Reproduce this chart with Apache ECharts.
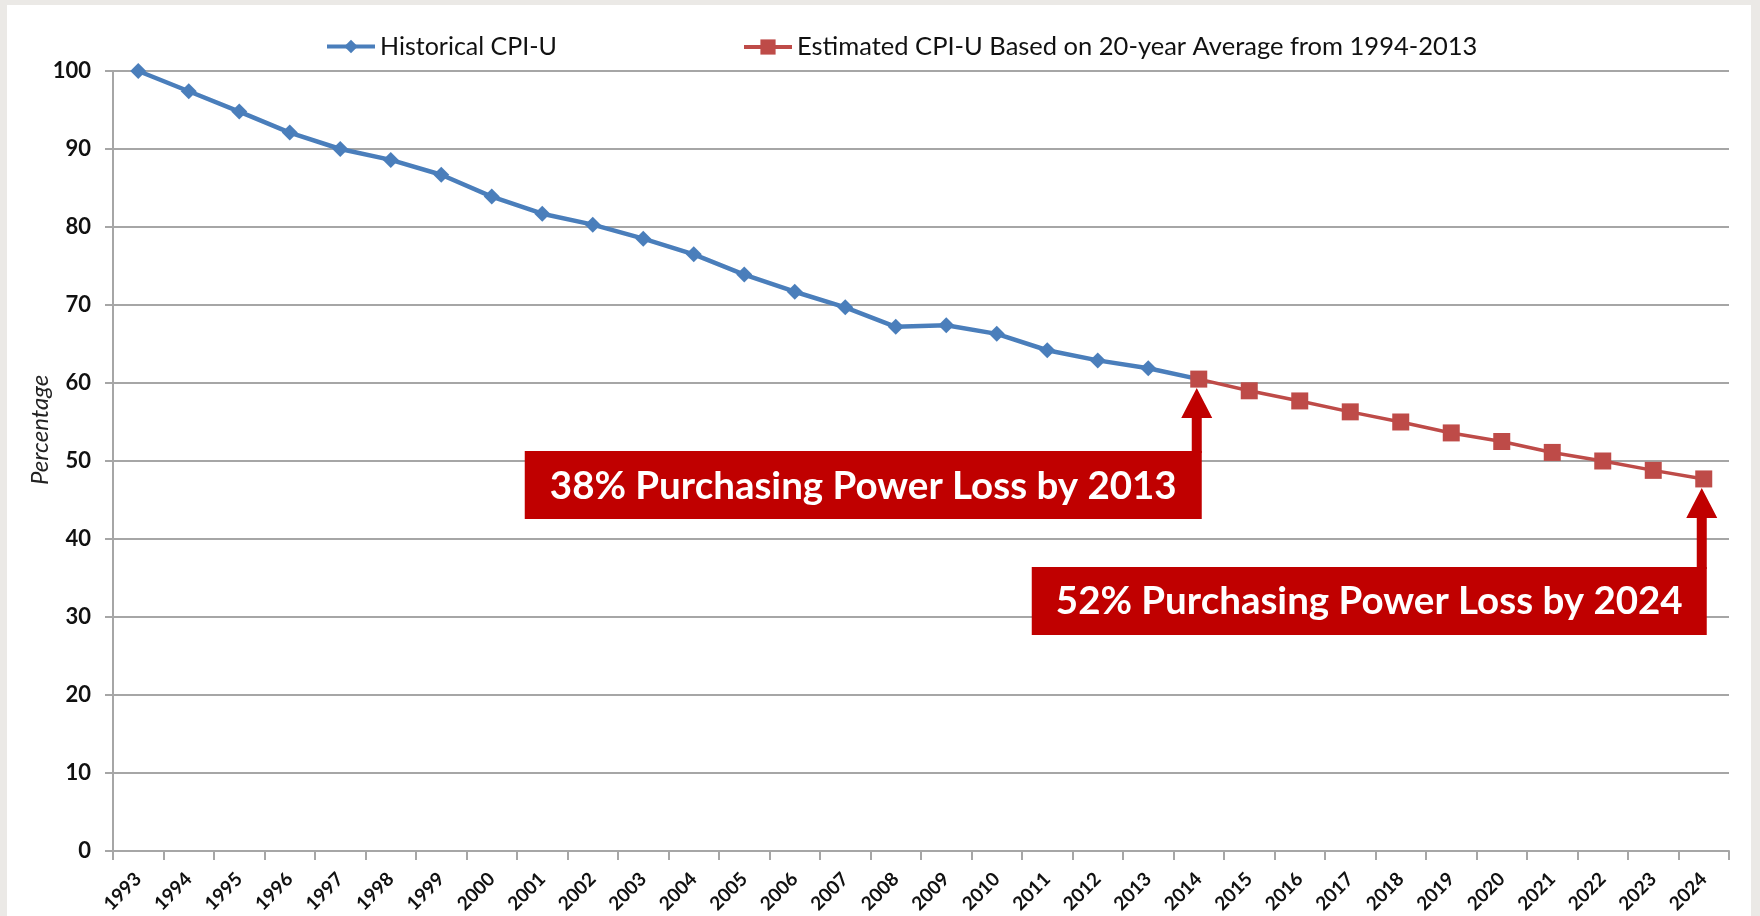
<!DOCTYPE html>
<html><head><meta charset="utf-8">
<script src="https://cdn.jsdelivr.net/npm/echarts@6/dist/echarts.min.js"></script>
<style>
html,body{margin:0;padding:0;width:1760px;height:916px;overflow:hidden;background:#ebe9e6;}
#panel{position:absolute;left:7px;top:5px;width:1744px;height:911px;background:#fff;}
#chart{position:absolute;left:0;top:0;width:1760px;height:916px;}
</style></head><body><div id="panel"></div><div id="chart"></div>
<script>
const years = ['1993','1994','1995','1996','1997','1998','1999','2000','2001','2002','2003','2004','2005','2006','2007','2008','2009','2010','2011','2012','2013','2014','2015','2016','2017','2018','2019','2020','2021','2022','2023','2024'];
const historicalName = 'Historical CPI-U';
const estimatedName = 'Estimated CPI-U Based on 20-year Average from 1994-2013';
const historical = [100, 97.4, 94.8, 92.1, 90.0, 88.6, 86.7, 83.9, 81.7, 80.3, 78.5, 76.5, 73.9, 71.7, 69.7, 67.2, 67.4, 66.3, 64.2, 62.9, 61.9, 60.5,
  null, null, null, null, null, null, null, null, null, null];
const estimated = [null, null, null, null, null, null, null, null, null, null, null, null, null, null, null, null, null, null, null, null, null,
  60.5, 59.0, 57.7, 56.3, 55.0, 53.6, 52.5, 51.1, 50.0, 48.8, 47.7];
const yTicks = [0, 10, 20, 30, 40, 50, 60, 70, 80, 90, 100];
const yAxisTitle = 'Percentage';
const annotations = [
  { text: '38% Purchasing Power Loss by 2013', year: '2014', value: 60.5, boxDrop: 72, boxWidth: 677 },
  { text: '52% Purchasing Power Loss by 2024', year: '2024', value: 47.7, boxDrop: 88, boxWidth: 675 }
];

const BLUE = '#4a7ebb', RED = '#be4b48', DARKRED = '#c00000', GRID = '#a6a6a6';
const chart = echarts.init(document.getElementById('chart'), null, { renderer: 'canvas' });

chart.setOption({
  backgroundColor: 'transparent',
  animation: false,
  legend: [
    { data: [historicalName], left: 325, top: 34, padding: 0, itemWidth: 48, itemHeight: 17, itemGap: 0,
      textStyle: { fontFamily: 'Lato', fontSize: 25, color: '#111' }, lineStyle: { width: 4 } },
    { data: [estimatedName], left: 742, top: 34, padding: 0, itemWidth: 48, itemHeight: 19, itemGap: 0,
      textStyle: { fontFamily: 'Lato', fontSize: 25.5, color: '#111' }, lineStyle: { width: 4 } }
  ],
  grid: { left: 113, right: 31, top: 71, bottom: 65, containLabel: false },
  xAxis: {
    type: 'category', data: years, boundaryGap: true,
    axisLine: { lineStyle: { color: GRID, width: 2 } },
    axisTick: { show: true, length: 9, lineStyle: { color: GRID, width: 2 } },
    axisLabel: { rotate: 45, interval: 0, margin: 25, fontFamily: 'Lato', fontWeight: 'bold', fontSize: 19, color: '#111' },
    splitLine: { show: false }
  },
  yAxis: {
    type: 'value', min: yTicks[0], max: yTicks[yTicks.length - 1], interval: 10,
    axisLine: { show: true, lineStyle: { color: GRID, width: 2 } },
    axisTick: { show: true, length: 8, lineStyle: { color: GRID, width: 2 } },
    axisLabel: { margin: 22, fontFamily: 'Lato', fontWeight: 'bold', fontSize: 22, color: '#111' },
    splitLine: { show: true, lineStyle: { color: GRID, width: 2 } }
  },
  series: [
    { name: historicalName, type: 'line', data: historical, symbol: 'diamond', symbolSize: 16,
      lineStyle: { color: BLUE, width: 4.5 }, itemStyle: { color: BLUE }, z: 3 },
    { name: estimatedName, type: 'line', data: estimated, symbol: 'rect', symbolSize: 17,
      lineStyle: { color: RED, width: 3.5 }, itemStyle: { color: RED }, z: 4 }
  ]
});

const graphics = [{
  type: 'text', x: 40, y: 430, rotation: Math.PI / 2,
  style: { text: yAxisTitle, fontFamily: 'Lato', fontStyle: 'italic', fontSize: 24, fill: '#222', align: 'center', verticalAlign: 'middle' }
}];
annotations.forEach(a => {
  const p = chart.convertToPixel({ gridIndex: 0 }, [a.year, a.value]);
  const cx = p[0] - 2, tip = p[1] + 9, base = tip + 30, boxTop = p[1] + a.boxDrop, boxH = 68;
  const right = cx + 5, left = right - a.boxWidth;
  graphics.push({
    type: 'polygon', z: 10,
    shape: { points: [[cx, tip], [cx + 15.5, base], [cx + 5, base], [cx + 5, boxTop + 2], [cx - 5, boxTop + 2], [cx - 5, base], [cx - 15.5, base]] },
    style: { fill: DARKRED }
  });
  graphics.push({ type: 'rect', z: 10, shape: { x: left, y: boxTop, width: a.boxWidth, height: boxH }, style: { fill: DARKRED } });
  graphics.push({
    type: 'text', z: 11, x: left + a.boxWidth / 2, y: boxTop + boxH / 2 + 1,
    style: { text: a.text, fontFamily: 'Lato', fontWeight: 'bold', fontSize: 38.5, fill: '#fff', align: 'center', verticalAlign: 'middle' }
  });
});
chart.setOption({ graphic: graphics });
</script></body></html>
